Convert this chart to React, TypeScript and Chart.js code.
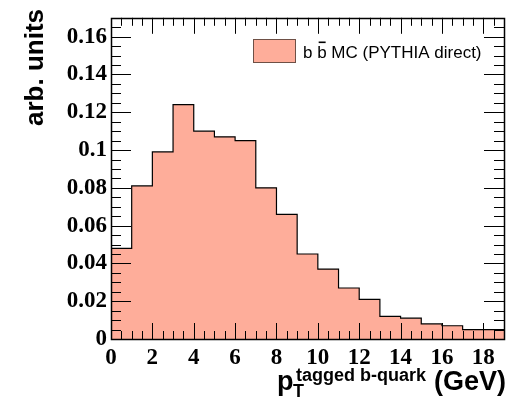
import React, { useEffect, useRef } from "react";
import { Chart, registerables } from "chart.js";

Chart.register(...registerables);

// ---- data ----
const binEdges = [0, 1, 2, 3, 4, 5, 6, 7, 8, 9, 10, 11, 12, 13, 14, 15, 16, 17, 18, 19];
const binValues = [
  0.048, 0.081, 0.099, 0.124, 0.110, 0.107, 0.105, 0.080, 0.066, 0.045,
  0.037, 0.027, 0.021, 0.012, 0.011, 0.008, 0.007, 0.005, 0.005,
];
const xTickLabels = [0, 2, 4, 6, 8, 10, 12, 14, 16, 18];
const yTickLabels = [0, 0.02, 0.04, 0.06, 0.08, 0.1, 0.12, 0.14, 0.16];
const legendLabel = ["b", "b", "MC (PYTHIA direct)"];
const yTitle = "arb. units";
const xTitleParts = { base: "p", sub: "T", sup: "tagged b-quark", unit: "(GeV)" };

const FILL = "rgb(254,173,154)";
const X_MIN = 0, X_MAX = 19, Y_MIN = 0, Y_MAX = 0.17;

const framePlugin = {
  id: "rootFrame",
  afterDatasetsDraw(chart: any) {
    const { ctx, chartArea: a, scales } = chart;
    const xs = scales.x, ys = scales.y;
    ctx.save();
    ctx.strokeStyle = "#000";
    ctx.lineWidth = 1;
    // x ticks (bottom & top)
    for (let v = X_MIN + 0.5; v < X_MAX; v += 0.5) {
      const px = Math.round(xs.getPixelForValue(v)) + 0.5;
      const major = Math.abs(v / 2 - Math.round(v / 2)) < 1e-6;
      const len = major ? 16 : 8;
      ctx.beginPath();
      ctx.moveTo(px, a.bottom);
      ctx.lineTo(px, a.bottom - len);
      ctx.moveTo(px, a.top);
      ctx.lineTo(px, a.top + len);
      ctx.stroke();
    }
    // y ticks (left & right)
    for (let k = 1; k * 0.005 < Y_MAX - 1e-9; k++) {
      const v = k * 0.005;
      const py = Math.round(ys.getPixelForValue(v)) + 0.5;
      const major = k % 4 === 0;
      const len = major ? 20 : 10;
      ctx.beginPath();
      ctx.moveTo(a.left, py);
      ctx.lineTo(a.left + len, py);
      ctx.moveTo(a.right, py);
      ctx.lineTo(a.right - len, py);
      ctx.stroke();
    }
    // frame
    ctx.lineWidth = 1.5;
    ctx.strokeRect(Math.round(a.left) + 0.5, Math.round(a.top) + 0.5,
      Math.round(a.right - a.left), Math.round(a.bottom - a.top));

    // legend
    ctx.fillStyle = FILL;
    ctx.fillRect(253, 39, 43, 24);
    ctx.lineWidth = 1;
    ctx.strokeStyle = "rgb(110,80,70)";
    ctx.strokeRect(253.5, 39.5, 42, 23);
    ctx.fillStyle = "#000";
    ctx.font = "17px 'Liberation Sans', Arial, sans-serif";
    ctx.textBaseline = "alphabetic";
    ctx.textAlign = "left";
    let lx = 303;
    ctx.fillText(legendLabel[0], lx, 58);
    lx += ctx.measureText(legendLabel[0] + " ").width;
    ctx.fillText(legendLabel[1], lx, 58);
    const bw = ctx.measureText(legendLabel[1]).width;
    ctx.fillRect(lx + 1.5, 41.5, bw - 2.5, 1.6);
    lx += ctx.measureText(legendLabel[1] + " ").width;
    ctx.fillText(legendLabel[2], lx, 58);

    // y title
    ctx.save();
    ctx.translate(43, 67.5);
    ctx.rotate(-Math.PI / 2);
    ctx.font = "bold 26px 'Liberation Sans', Arial, sans-serif";
    ctx.textAlign = "center";
    ctx.textBaseline = "alphabetic";
    ctx.fillText(yTitle, 0, 0);
    ctx.restore();

    // x title
    ctx.textAlign = "left";
    ctx.textBaseline = "alphabetic";
    ctx.font = "bold 27px 'Liberation Sans', Arial, sans-serif";
    ctx.fillText(xTitleParts.base, 277, 390);
    ctx.font = "bold 18px 'Liberation Sans', Arial, sans-serif";
    ctx.fillText(xTitleParts.sub, 293, 397);
    ctx.fillText(xTitleParts.sup, 296, 381);
    ctx.font = "bold 27px 'Liberation Sans', Arial, sans-serif";
    ctx.textAlign = "right";
    ctx.fillText(xTitleParts.unit, 506, 390);
    ctx.restore();
  },
};

export default function App() {
  const ref = useRef<HTMLCanvasElement>(null);
  useEffect(() => {
    if (!ref.current) return;
    const points = binEdges.map((x, i) => ({ x, y: binValues[Math.min(i, binValues.length - 1)] }));
    const tickFont = { family: "'Liberation Serif', 'Times New Roman', serif", size: 23, weight: "bold" as const };
    const chart = new Chart(ref.current, {
      type: "line",
      data: {
        datasets: [
          {
            data: points,
            stepped: true,
            fill: "origin",
            backgroundColor: FILL,
            borderColor: "#000",
            borderWidth: 1.2,
            pointRadius: 0,
          },
        ],
      },
      options: {
        animation: false,
        responsive: false,
        devicePixelRatio: 1,
        layout: { padding: { top: 8, right: 9, left: 0, bottom: 0 } },
        plugins: { legend: { display: false }, tooltip: { enabled: false } },
        scales: {
          x: {
            type: "linear",
            min: X_MIN,
            max: X_MAX,
            grid: { display: false, drawTicks: false },
            border: { display: false },
            ticks: {
              color: "#000",
              font: tickFont,
              padding: 5,
              maxRotation: 0,
              autoSkip: false,
              callback: (v: any) => String(v),
            },
            afterBuildTicks: (s: any) => {
              s.ticks = xTickLabels.map((value) => ({ value }));
            },
            afterFit: (s: any) => {
              s.height = 63;
            },
          },
          y: {
            type: "linear",
            min: Y_MIN,
            max: Y_MAX,
            grid: { display: false, drawTicks: false },
            border: { display: false },
            ticks: {
              color: "#000",
              font: tickFont,
              padding: 4,
              autoSkip: false,
              callback: (v: any) => String(Number(Number(v).toFixed(3))),
            },
            afterBuildTicks: (s: any) => {
              s.ticks = yTickLabels.map((value) => ({ value }));
            },
            afterFit: (s: any) => {
              s.width = 111;
            },
          },
        },
      },
      plugins: [framePlugin],
    });
    return () => chart.destroy();
  }, []);
  return (
    <div style={{ position: "absolute", left: 0, top: 0, width: 513, height: 402, background: "#fff" }}>
      <canvas ref={ref} width={513} height={402} style={{ display: "block" }} />
    </div>
  );
}
